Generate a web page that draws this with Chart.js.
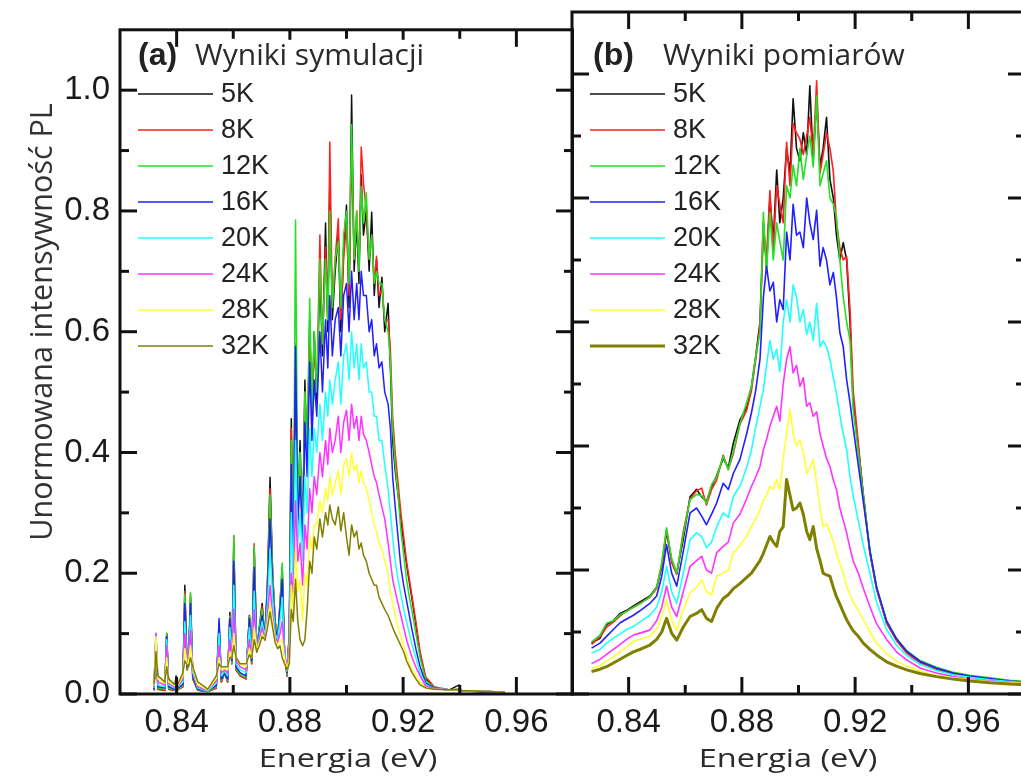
<!DOCTYPE html>
<html>
<head>
<meta charset="utf-8">
<script src="https://cdn.jsdelivr.net/npm/chart.js@4.4.1/dist/chart.umd.min.js"></script>
<style>
  html, body { margin: 0; padding: 0; background: #fff; width: 1021px; height: 782px; overflow: hidden; position: relative; }
  canvas { position: absolute; top: 0; }
  #simChart { left: 0; }
  #expChart { left: 566px; }
</style>
</head>
<body>
<canvas id="simChart" width="574" height="782"></canvas>
<canvas id="expChart" width="461" height="782"></canvas>
<script>
// Temperatures of the PL series
const temperatures = ['5K', '8K', '12K', '16K', '20K', '24K', '28K', '32K'];

// Axis ticks
const energyTicks = [0.84, 0.88, 0.92, 0.96];
const energyMinorTicks = [0.86, 0.90, 0.94];
const intensityTicks = [0.0, 0.2, 0.4, 0.6, 0.8, 1.0];
const intensityMinorTicks = [0.1, 0.3, 0.5, 0.7, 0.9];

// (a) simulated spectra: energy (eV) and normalised intensity per temperature
const simEnergy = [
  0.8320, 0.8327, 0.8334, 0.8358, 0.8365, 0.8372, 0.8392, 0.8398, 0.8405, 0.8422,
  0.8429, 0.8437, 0.8442, 0.8449, 0.8457, 0.8475, 0.8510, 0.8540, 0.8550, 0.8558,
  0.8570, 0.8580, 0.8588, 0.8595, 0.8602, 0.8610, 0.8625, 0.8645, 0.8657, 0.8665,
  0.8674, 0.8683, 0.8692, 0.8702, 0.8712, 0.8721, 0.8730, 0.8739, 0.8748, 0.8757,
  0.8765, 0.8773, 0.8781, 0.8790, 0.8798, 0.8805, 0.8812, 0.8820, 0.8828, 0.8836,
  0.8845, 0.8853, 0.8861, 0.8870, 0.8878, 0.8886, 0.8895, 0.8906, 0.8915, 0.8926,
  0.8934, 0.8941, 0.8950, 0.8960, 0.8971, 0.8980, 0.8990, 0.9000, 0.9009, 0.9018,
  0.9027, 0.9036, 0.9044, 0.9052, 0.9060, 0.9070, 0.9080, 0.9089, 0.9098, 0.9106,
  0.9115, 0.9125, 0.9135, 0.9147, 0.9155, 0.9163, 0.9172, 0.9182, 0.9192, 0.9202,
  0.9212, 0.9222, 0.9232, 0.9245, 0.9260, 0.9280, 0.9310, 0.9360, 0.9398, 0.9405,
  0.9450, 0.9500, 0.9560
];
const sim5K = [
  .006, .085, .008, .006, .100, .008, .006, .030, .008, .012,
  .180, .040, .050, .160, .025, .006, .004, .010, .110, .020,
  .035, .020, .135, .050, .250, .040, .030, .025, .130, .050,
  .240, .070, .110, .150, .090, .190, .359, .200, .120, .090,
  .150, .210, .070, .030, .100, .456, .220, .550, .300, .420,
  .250, .520, .380, .620, .450, .600, .480, .700, .560, .780,
  .600, .850, .620, .700, .760, .600, .740, .810, .640, .992,
  .700, .780, .680, .860, .760, .800, .700, .798, .660, .720,
  .640, .690, .600, .647, .540, .420, .370, .330, .290, .250,
  .215, .185, .155, .115, .065, .025, .010, .006, .015, .005,
  .004, .003, .002
];
const sim8K = [
  .006, .090, .008, .006, .100, .008, .006, .025, .007, .012,
  .170, .040, .050, .165, .025, .006, .004, .010, .115, .020,
  .035, .020, .130, .050, .262, .040, .030, .025, .130, .050,
  .249, .070, .105, .145, .090, .180, .340, .200, .120, .090,
  .145, .200, .070, .030, .100, .440, .220, .580, .300, .400,
  .260, .500, .400, .600, .470, .580, .500, .760, .580, .740,
  .620, .914, .640, .720, .787, .620, .720, .780, .660, .900,
  .720, .800, .700, .906, .846, .800, .720, .760, .680, .725,
  .660, .670, .620, .620, .570, .460, .400, .350, .300, .260,
  .220, .190, .160, .120, .070, .028, .012, .007, .008, .006,
  .005, .004, .003
];
const sim12K = [
  .007, .095, .010, .008, .100, .010, .007, .020, .008, .014,
  .165, .042, .050, .168, .028, .007, .004, .012, .120, .022,
  .035, .022, .128, .050, .262, .042, .032, .027, .128, .052,
  .245, .070, .110, .140, .095, .180, .330, .200, .120, .090,
  .150, .217, .070, .032, .100, .420, .220, .785, .300, .400,
  .260, .500, .400, .655, .470, .600, .500, .720, .580, .720,
  .620, .800, .640, .720, .750, .640, .760, .800, .680, .943,
  .720, .800, .700, .840, .780, .830, .720, .760, .680, .700,
  .680, .680, .620, .600, .550, .440, .380, .330, .270, .230,
  .190, .160, .135, .100, .060, .022, .011, .007, .008, .006,
  .005, .004, .003
];
const sim16K = [
  .008, .100, .012, .010, .095, .012, .008, .015, .010, .016,
  .150, .045, .052, .150, .030, .008, .005, .014, .125, .025,
  .035, .025, .125, .055, .220, .045, .035, .030, .125, .055,
  .210, .072, .100, .130, .095, .170, .290, .180, .110, .090,
  .140, .190, .070, .035, .100, .380, .200, .575, .280, .360,
  .250, .450, .360, .550, .420, .520, .460, .600, .500, .620,
  .540, .660, .560, .620, .640, .560, .660, .680, .600, .700,
  .620, .680, .620, .700, .660, .660, .600, .620, .560, .580,
  .540, .550, .500, .480, .440, .360, .310, .260, .210, .180,
  .155, .130, .105, .075, .045, .018, .010, .007, .007, .006,
  .005, .004, .003
];
const sim20K = [
  .010, .100, .015, .012, .090, .015, .010, .013, .012, .020,
  .120, .048, .055, .130, .035, .010, .005, .018, .100, .030,
  .038, .030, .110, .060, .180, .050, .040, .035, .110, .060,
  .170, .075, .095, .120, .095, .150, .240, .160, .100, .090,
  .120, .160, .070, .038, .090, .300, .180, .420, .250, .300,
  .220, .360, .300, .440, .360, .440, .400, .480, .420, .500,
  .460, .520, .480, .520, .550, .480, .560, .580, .520, .600,
  .540, .580, .520, .580, .540, .550, .500, .500, .460, .460,
  .420, .420, .380, .340, .300, .260, .220, .190, .165, .140,
  .120, .100, .080, .060, .035, .015, .009, .007, .007, .006,
  .005, .004, .003
];
const sim24K = [
  .012, .100, .020, .015, .080, .018, .012, .014, .013, .025,
  .100, .050, .055, .105, .040, .012, .006, .022, .080, .035,
  .040, .035, .090, .060, .140, .055, .045, .040, .090, .060,
  .140, .075, .090, .110, .090, .130, .180, .130, .095, .085,
  .100, .120, .065, .040, .080, .200, .160, .320, .220, .250,
  .180, .280, .240, .340, .300, .360, .330, .400, .360, .420,
  .380, .440, .400, .420, .460, .400, .450, .470, .420, .480,
  .440, .460, .420, .460, .430, .420, .400, .380, .360, .350,
  .330, .310, .290, .250, .220, .190, .170, .150, .130, .110,
  .090, .075, .060, .045, .030, .013, .009, .007, .007, .006,
  .005, .004, .003
];
const sim28K = [
  .014, .095, .025, .018, .060, .020, .014, .015, .015, .030,
  .075, .050, .050, .080, .042, .015, .007, .026, .060, .040,
  .042, .040, .070, .060, .100, .060, .050, .045, .075, .060,
  .110, .075, .085, .100, .090, .120, .150, .120, .090, .080,
  .090, .090, .060, .040, .060, .180, .140, .240, .170, .190,
  .120, .200, .180, .260, .240, .280, .280, .320, .300, .340,
  .320, .360, .330, .350, .370, .330, .380, .390, .360, .400,
  .370, .380, .350, .370, .350, .340, .320, .300, .280, .270,
  .250, .240, .220, .200, .170, .150, .130, .110, .095, .080,
  .065, .050, .040, .030, .020, .010, .008, .007, .007, .006,
  .005, .004, .003
];
const sim32K = [
  .016, .070, .030, .020, .045, .025, .016, .017, .017, .035,
  .055, .048, .045, .060, .045, .020, .008, .030, .050, .045,
  .045, .045, .060, .060, .080, .060, .050, .050, .065, .060,
  .090, .070, .080, .095, .090, .110, .136, .110, .085, .075,
  .080, .060, .050, .040, .050, .140, .120, .190, .120, .090,
  .080, .090, .140, .220, .200, .260, .240, .290, .260, .300,
  .280, .313, .290, .280, .310, .270, .300, .260, .230, .280,
  .260, .270, .240, .250, .230, .220, .200, .190, .180, .180,
  .160, .150, .140, .130, .120, .110, .100, .090, .080, .070,
  .055, .045, .035, .025, .015, .010, .008, .007, .007, .006,
  .005, .004, .003
];

// (b) measured spectra: energy (eV) and normalised intensity per temperature
const expEnergy = [
  0.8269, 0.8299, 0.8322, 0.8346, 0.8370, 0.8393, 0.8417, 0.8446, 0.8475, 0.8499,
  0.8517, 0.8534, 0.8552, 0.8570, 0.8593, 0.8617, 0.8640, 0.8658, 0.8675, 0.8693,
  0.8711, 0.8734, 0.8752, 0.8770, 0.8793, 0.8817, 0.8834, 0.8849, 0.8864, 0.8876,
  0.8887, 0.8899, 0.8911, 0.8923, 0.8934, 0.8946, 0.8958, 0.8970, 0.8981, 0.8993,
  0.9005, 0.9017, 0.9029, 0.9040, 0.9052, 0.9064, 0.9076, 0.9087, 0.9099, 0.9111,
  0.9123, 0.9134, 0.9146, 0.9158, 0.9170, 0.9182, 0.9193, 0.9211, 0.9229, 0.9252,
  0.9276, 0.9311, 0.9346, 0.9382, 0.9429, 0.9487, 0.9546, 0.9605, 0.9676, 0.9746,
  0.9805
];
const exp5K = [
  .082, .090, .112, .118, .130, .135, .142, .150, .158, .172,
  .205, .262, .215, .195, .250, .318, .330, .318, .310, .335,
  .352, .380, .365, .405, .442, .462, .496, .545, .600, .760,
  .690, .800, .730, .845, .760, .800, .880, .840, .960, .880,
  .860, .905, .870, .981, .860, .960, .850, .880, .930, .830,
  .800, .740, .700, .728, .700, .600, .470, .400, .322, .230,
  .170, .116, .088, .068, .052, .040, .032, .028, .024, .021,
  .019
];
const exp8K = [
  .080, .092, .108, .116, .126, .134, .140, .148, .156, .170,
  .208, .265, .212, .193, .262, .315, .328, .332, .305, .330,
  .345, .385, .362, .388, .435, .458, .490, .540, .595, .745,
  .700, .812, .717, .820, .790, .760, .890, .820, .920, .905,
  .895, .870, .900, .930, .870, .989, .840, .870, .905, .880,
  .843, .760, .720, .700, .706, .620, .490, .405, .318, .227,
  .168, .114, .086, .066, .050, .041, .033, .028, .024, .020,
  .018
];
const exp12K = [
  .084, .095, .114, .118, .128, .133, .140, .147, .157, .172,
  .212, .268, .218, .195, .258, .313, .322, .320, .308, .338,
  .350, .383, .362, .392, .436, .470, .496, .545, .583, .777,
  .680, .777, .700, .760, .730, .700, .820, .800, .853, .820,
  .880, .830, .870, .900, .850, .965, .820, .840, .860, .800,
  .790, .770, .700, .640, .600, .570, .460, .390, .320, .232,
  .172, .118, .090, .070, .054, .043, .035, .030, .026, .022,
  .020
];
const exp16K = [
  .074, .082, .093, .104, .115, .121, .127, .136, .146, .158,
  .190, .241, .195, .174, .230, .292, .300, .287, .273, .290,
  .308, .340, .330, .356, .378, .420, .454, .490, .540, .640,
  .690, .650, .664, .600, .636, .620, .745, .700, .790, .740,
  .745, .720, .800, .760, .733, .780, .690, .720, .700, .660,
  .680, .640, .583, .560, .507, .470, .430, .370, .310, .232,
  .172, .118, .089, .069, .053, .042, .034, .029, .025, .021,
  .019
];
const exp20K = [
  .066, .072, .082, .090, .097, .104, .109, .118, .127, .140,
  .165, .206, .165, .146, .195, .249, .260, .254, .236, .245,
  .270, .292, .285, .319, .335, .365, .394, .430, .464, .491,
  .530, .570, .540, .556, .520, .600, .636, .600, .660, .640,
  .600, .620, .580, .600, .570, .630, .560, .570, .560, .540,
  .510, .485, .450, .420, .394, .350, .320, .280, .240, .195,
  .148, .104, .079, .062, .048, .038, .031, .027, .023, .020,
  .018
];
const exp24K = [
  .049, .056, .064, .072, .080, .088, .095, .099, .103, .118,
  .140, .174, .140, .125, .165, .206, .215, .222, .200, .195,
  .228, .238, .245, .276, .290, .315, .335, .350, .367, .394,
  .410, .432, .448, .464, .440, .500, .540, .560, .518, .530,
  .496, .510, .464, .470, .448, .455, .420, .400, .380, .367,
  .345, .330, .300, .280, .260, .235, .215, .195, .170, .141,
  .113, .088, .068, .055, .042, .034, .028, .024, .021, .019,
  .017
];
const exp28K = [
  .041, .046, .053, .060, .068, .076, .085, .089, .093, .105,
  .125, .152, .118, .103, .135, .163, .172, .184, .165, .160,
  .190, .195, .200, .227, .240, .255, .270, .282, .297, .313,
  .320, .335, .330, .346, .330, .380, .420, .459, .420, .400,
  .410, .390, .356, .365, .378, .340, .300, .270, .275, .260,
  .245, .227, .210, .195, .174, .160, .148, .135, .120, .100,
  .082, .065, .053, .045, .037, .030, .026, .023, .020, .018,
  .017
];
const exp32K = [
  .036, .040, .044, .050, .056, .062, .068, .073, .079, .088,
  .100, .122, .098, .087, .108, .125, .130, .136, .122, .117,
  .138, .154, .160, .170, .178, .188, .195, .205, .215, .227,
  .240, .254, .245, .238, .262, .270, .346, .320, .297, .300,
  .308, .290, .262, .249, .270, .235, .215, .195, .192, .190,
  .172, .157, .145, .132, .120, .110, .102, .093, .082, .072,
  .063, .052, .045, .039, .033, .028, .024, .021, .018, .016,
  .015
];

// Line colours, one per temperature
const lineColors = ['#111111', '#ff1f1f', '#22e022', '#1f1fff', '#22ffff', '#ff33ff', '#ffff33', '#7f7f00'];

function buildDatasets(energy, seriesList, widths) {
  return seriesList.map((values, i) => ({
    label: temperatures[i],
    data: values.map((v, k) => ({ x: energy[k], y: v })),
    borderColor: lineColors[i],
    backgroundColor: lineColors[i],
    borderWidth: widths[i],
    pointRadius: 0,
    tension: 0,
    borderJoinStyle: 'round',
    // highest temperature is painted last (on top)
    order: seriesList.length - i
  }));
}

// Boxed frame with inward ticks, panel caption, line legend and axis titles
const panelDecor = {
  id: 'panelDecor',
  afterDatasetsDraw(chart, args, o) {
    const { ctx, chartArea: a, scales: { x, y } } = chart;
    const seg = (x1, y1, x2, y2) => { ctx.beginPath(); ctx.moveTo(x1, y1); ctx.lineTo(x2, y2); ctx.stroke(); };
    ctx.save();
    ctx.strokeStyle = '#111';
    ctx.lineWidth = 3;
    ctx.lineCap = 'butt';
    const major = 17, minor = 9;
    energyTicks.forEach(v => { const p = x.getPixelForValue(v); seg(p, a.bottom, p, a.bottom - major); seg(p, a.top, p, a.top + major); });
    energyMinorTicks.forEach(v => { const p = x.getPixelForValue(v); seg(p, a.bottom, p, a.bottom - minor); seg(p, a.top, p, a.top + minor); });
    intensityTicks.forEach(v => { const p = y.getPixelForValue(v); seg(a.left, p, a.left + major, p); seg(a.right, p, a.right - major, p); });
    intensityMinorTicks.forEach(v => { const p = y.getPixelForValue(v); seg(a.left, p, a.left + minor, p); seg(a.right, p, a.right - minor, p); });
    ctx.strokeRect(a.left, a.top, a.right - a.left, a.bottom - a.top);

    // caption
    if (o.captionBox) {
      ctx.fillStyle = '#fff';
      ctx.fillRect(a.left + o.captionBox[0], a.top + o.captionBox[1], o.captionBox[2], o.captionBox[3]);
    }
    ctx.fillStyle = '#222';
    ctx.textAlign = 'left';
    ctx.textBaseline = 'alphabetic';
    ctx.font = 'bold 32px "Liberation Sans", Arial, sans-serif';
    ctx.fillText(o.tag, a.left + o.tagX, 65);
    ctx.font = '30px "Open Sans", sans-serif';
    ctx.fillStyle = '#2a2a2a';
    ctx.fillText(o.caption, a.left + o.captionX, 65);

    // legend
    ctx.font = '27px "Liberation Sans", Arial, sans-serif';
    ctx.textBaseline = 'middle';
    chart.data.datasets.forEach((ds, i) => {
      const ly = 94 + i * 36;
      ctx.strokeStyle = ds.borderColor;
      ctx.lineWidth = ds.borderWidth;
      seg(a.left + 18, ly, a.left + 93, ly);
      ctx.fillStyle = '#222';
      ctx.fillText(ds.label, a.left + 101, ly + 1);
    });

    // x-axis title
    ctx.save();
    ctx.translate(a.left + o.xTitleOffset, 767);
    ctx.scale(1.25, 1);
    ctx.font = '26px "Open Sans", sans-serif';
    ctx.textAlign = 'center';
    ctx.textBaseline = 'alphabetic';
    ctx.fillStyle = '#2a2a2a';
    ctx.fillText('Energia (eV)', 0, 0);
    ctx.restore();

    // y-axis title
    if (o.yTitle) {
      ctx.save();
      ctx.translate(52, 322);
      ctx.rotate(-Math.PI / 2);
      ctx.font = '30.5px "Open Sans", sans-serif';
      ctx.textAlign = 'center';
      ctx.textBaseline = 'alphabetic';
      ctx.fillStyle = '#333';
      ctx.fillText(o.yTitle, 0, 0);
      ctx.restore();
    }
    ctx.restore();
  }
};

const tickFont = { family: '"Liberation Sans", Arial, sans-serif', size: 33 };

function makePanel(canvasId, energy, series, widths, showY, padding, decor) {
  return new Chart(document.getElementById(canvasId), {
    type: 'line',
    data: { datasets: buildDatasets(energy, series, widths) },
    options: {
      responsive: false,
      animation: false,
      events: [],
      parsing: false,
      layout: { padding },
      plugins: { legend: { display: false }, tooltip: { enabled: false }, panelDecor: decor },
      scales: {
        x: {
          type: 'linear', min: 0.82, max: 0.98,
          grid: { display: false, drawTicks: false },
          border: { display: false },
          afterBuildTicks: s => { s.ticks = energyTicks.map(v => ({ value: v })); },
          afterFit: s => { s.height = 88; },
          ticks: { autoSkip: false, maxRotation: 0, padding: 9, color: '#1a1a1a', font: tickFont,
                   callback: v => v.toFixed(2) }
        },
        y: {
          type: 'linear', min: 0, max: 1.1, display: showY,
          grid: { display: false, drawTicks: false },
          border: { display: false },
          afterBuildTicks: s => { s.ticks = intensityTicks.map(v => ({ value: v })); },
          afterFit: s => { s.width = showY ? 120 : 0; },
          ticks: { padding: 10, color: '#1a1a1a', font: tickFont, callback: v => v.toFixed(1) }
        }
      }
    },
    plugins: [panelDecor]
  });
}

makePanel('simChart', simEnergy,
  [sim5K, sim8K, sim12K, sim16K, sim20K, sim24K, sim28K, sim32K],
  [1.5, 1.5, 1.5, 1.5, 1.5, 1.5, 1.5, 1.5],
  true, { top: 12, right: 1, left: 0, bottom: 0 },
  { tag: '(a)', tagX: 18, caption: 'Wyniki symulacji', captionX: 75,
    captionBox: [68, 10, 252, 53], xTitleOffset: 228,
    yTitle: 'Unormowana intensywność PL' });

makePanel('expChart', expEnergy,
  [exp5K, exp8K, exp12K, exp16K, exp20K, exp24K, exp28K, exp32K],
  [1.6, 1.6, 1.6, 1.6, 1.6, 1.6, 1.6, 3],
  false, { top: 12, right: 2, left: 6, bottom: 0 },
  { tag: '(b)', tagX: 21, caption: 'Wyniki pomiarów', captionX: 91,
    xTitleOffset: 216 });
</script>
</body>
</html>
